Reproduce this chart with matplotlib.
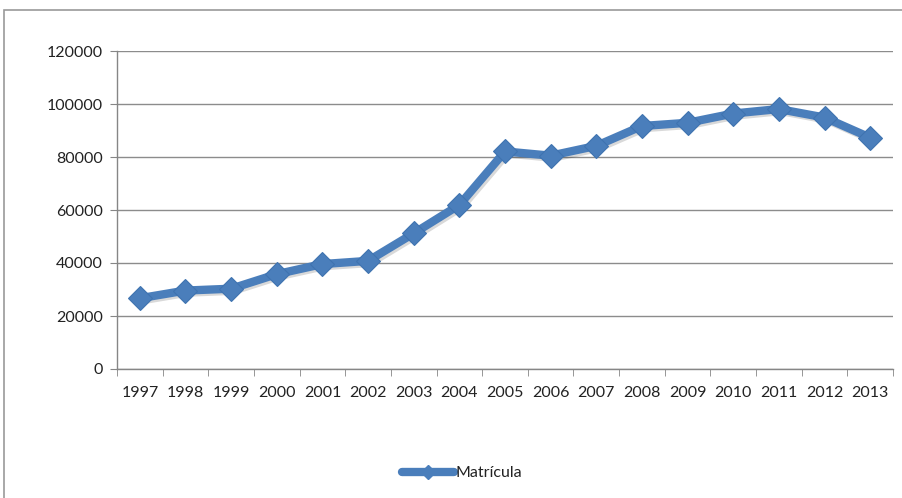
import matplotlib
matplotlib.use("Agg")
import matplotlib.pyplot as plt
import matplotlib.patheffects as pe
from matplotlib.patches import Rectangle
from matplotlib.lines import Line2D

years = ["1997", "1998", "1999", "2000", "2001", "2002", "2003", "2004", "2005",
         "2006", "2007", "2008", "2009", "2010", "2011", "2012", "2013"]
matricula = [26700, 29600, 30300, 35800, 39600, 40800, 51200, 61900, 82100,
             80500, 84200, 91700, 92900, 96400, 98100, 94900, 87300]
yticks = [0, 20000, 40000, 60000, 80000, 100000, 120000]

plt.rcParams['font.family'] = ['Lato', 'DejaVu Sans']

fig = plt.figure(figsize=(9.03, 4.98), dpi=100)
fig.patches.append(Rectangle((4/903, -0.1), 1.2, 1 - 10/498 + 0.1, transform=fig.transFigure,
                             fill=False, edgecolor='#9a9a9a', linewidth=1.2))
ax = fig.add_axes([117/903, 1 - 369/498, (893 - 117)/903, (369 - 51)/498])

x = list(range(len(years)))
color = '#4a7ebb'
ax.plot(x, matricula, color=color, linewidth=6,
        solid_capstyle='round', solid_joinstyle='round',
        path_effects=[pe.SimpleLineShadow(offset=(1.5, -1.5), alpha=0.15), pe.Normal()], zorder=3)
ax.plot(x, matricula, linestyle='none', marker='D', markersize=12,
        markerfacecolor=color, markeredgecolor='#3f73b0', markeredgewidth=0.8, zorder=4)

ax.set_xlim(-0.5, len(years) - 0.5)
ax.set_ylim(0, 120000)
ax.set_yticks(yticks)
ax.set_yticklabels([str(v) for v in yticks])
ax.set_xticks(x)
ax.set_xticklabels(years)
ax.set_xticks([i - 0.5 for i in range(len(years) + 1)], minor=True)
ax.tick_params(axis='x', which='major', length=0, pad=12, labelsize=11.5, colors='#222222')
ax.tick_params(axis='x', which='minor', length=5, color='#868686', direction='out')
ax.tick_params(axis='y', length=5, color='#868686', labelsize=11.5, colors='#222222', pad=5)
ax.grid(axis='y', color='#8c8c8c', linewidth=1)
ax.set_axisbelow(True)
for s in ['top', 'right']:
    ax.spines[s].set_visible(False)
for s in ['left', 'bottom']:
    ax.spines[s].set_color('#868686')
    ax.spines[s].set_linewidth(1)

handle = Line2D([], [], color=color, linewidth=6, marker='D', markersize=7,
                markerfacecolor=color, markeredgecolor=color, solid_capstyle='round')
leg = fig.legend([handle], ['Matrícula'], loc='center', bbox_to_anchor=(462/903, 1 - 473/498),
                 frameon=False, fontsize=11.5, handlelength=3.3, handletextpad=0.1)
for t in leg.get_texts():
    t.set_color('#222222')

fig.savefig('out.png', dpi=100)
